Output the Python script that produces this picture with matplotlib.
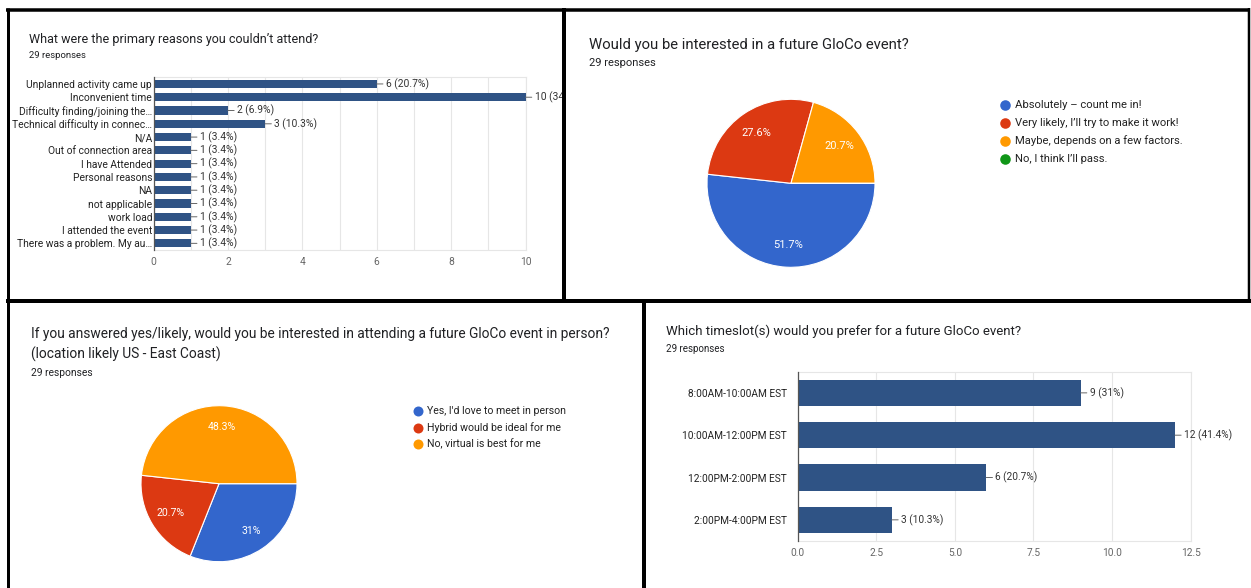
import matplotlib
matplotlib.use('Agg')
import matplotlib.pyplot as plt
from matplotlib.transforms import Bbox, TransformedBbox

plt.rcParams['font.family'] = ['Roboto', 'DejaVu Sans']

W, H = 1251, 588
TOTAL = 29

# ---- Panel 1: reasons (horizontal bars)
reason_title = "What were the primary reasons you couldn’t attend?"
reasons = ["Unplanned activity came up", "Inconvenient time",
           "Difficulty finding/joining the…", "Technical difficulty in connec…",
           "N/A", "Out of connection area", "I have Attended", "Personal reasons",
           "NA", "not applicable", "work load", "I attended the event",
           "There was a problem. My au…"]
reason_counts = [6, 10, 2, 3, 1, 1, 1, 1, 1, 1, 1, 1, 1]
reason_ticks = [0, 2, 4, 6, 8, 10]
reason_tick_labels = ["0", "2", "4", "6", "8", "10"]

# ---- Panel 2: interest (pie)
interest_title = "Would you be interested in a future GloCo event?"
interest_labels = ["Absolutely – count me in!", "Very likely, I’ll try to make it work!",
                   "Maybe, depends on a few factors.", "No, I think I’ll pass."]
interest_counts = [15, 8, 6, 0]

# ---- Panel 3: in person (pie)
inperson_title = ["If you answered yes/likely, would you be interested in attending a future GloCo event in person?",
                  "(location likely US - East Coast)"]
inperson_labels = ["Yes, I'd love to meet in person", "Hybrid would be ideal for me",
                   "No, virtual is best for me"]
inperson_counts = [9, 6, 14]

# ---- Panel 4: timeslots (horizontal bars)
slot_title = "Which timeslot(s) would you prefer for a future GloCo event?"
slots = ["8:00AM-10:00AM EST", "10:00AM-12:00PM EST", "12:00PM-2:00PM EST", "2:00PM-4:00PM EST"]
slot_counts = [9, 12, 6, 3]
slot_ticks = [0, 2.5, 5, 7.5, 10, 12.5]
slot_tick_labels = ["0.0", "2.5", "5.0", "7.5", "10.0", "12.5"]

responses_text = "29 responses"

PIE_COLORS = ['#3366cc', '#dc3912', '#ff9900', '#109618']
BAR_COLOR = '#2f5385'
GRID = '#e6e6e6'
TXT = '#202124'


def pct_text(p):
    s = f"{p:.1f}"
    if s.endswith('.0'):
        s = s[:-2]
    return s + '%'


fig = plt.figure(figsize=(W / 100, H / 100), dpi=100)
fig.patch.set_facecolor('white')


def px_axes(x0, y0, x1, y1):
    return fig.add_axes([x0 / W, 1 - y1 / H, (x1 - x0) / W, (y1 - y0) / H])


def bar_panel(box, cats, counts, xmax, ticks, tick_labels, minor, fs, lpad, clip):
    ax = px_axes(*box)
    y = list(range(len(cats)))
    ax.barh(y, counts, height=0.62, color=BAR_COLOR, zorder=3)
    ax.set_xlim(0, xmax)
    ax.set_ylim(len(cats) - 0.5, -0.5)
    ax.set_yticks(y)
    ax.set_yticklabels(cats, fontsize=fs, color='#222222')
    ax.set_xticks(ticks)
    ax.set_xticklabels(tick_labels, fontsize=fs, color='#666666')
    if minor:
        ax.set_xticks(minor, minor=True)
    ax.grid(axis='x', which='both', color=GRID, lw=0.8, zorder=0)
    ax.tick_params(axis='both', which='both', length=0)
    ax.tick_params(axis='y', pad=lpad)
    ax.tick_params(axis='x', pad=5)
    for s in ['top', 'bottom', 'right']:
        ax.spines[s].set_color(GRID)
        ax.spines[s].set_linewidth(0.8)
    ax.spines['left'].set_color('#555555')
    ax.spines['left'].set_linewidth(0.9)
    ax.spines['left'].set_zorder(4)
    cb = TransformedBbox(Bbox.from_extents(*clip), fig.transFigure)
    for i, v in enumerate(counts):
        t = ax.annotate(f"{v} ({pct_text(100 * v / TOTAL)})", xy=(v, i),
                        xytext=(6.5, 0), textcoords='offset points',
                        va='center', ha='left', fontsize=fs, color='#333333',
                        annotation_clip=False,
                        arrowprops=dict(arrowstyle='-', color='#666666', lw=0.7,
                                        shrinkA=0, shrinkB=0))
        t.set_clip_on(True)
        t.set_clip_box(cb)
    return ax


def pie_panel(cx, cy, r, counts, fs, dist):
    ax = px_axes(cx - r, cy - r, cx + r, cy + r)
    ax.pie(counts, colors=PIE_COLORS[:len(counts)], startangle=0, counterclock=False,
           autopct=lambda p: pct_text(p) if p > 0 else '', pctdistance=dist,
           wedgeprops=dict(edgecolor='white', linewidth=0.8),
           textprops=dict(color='white', fontsize=fs))
    ax.set_xlim(-1, 1)
    ax.set_ylim(-1, 1)
    return ax


bar_panel((153.5, 77.3, 525.5, 250.0), reasons, reason_counts, 10,
          reason_ticks, reason_tick_labels, [1, 3, 5, 7, 9], 7.4, 1.0,
          (0, 1 - 300 / H, 562 / W, 1))
bar_panel((797.6, 371.7, 1190.6, 541.0), slots, slot_counts, 12.5,
          slot_ticks, slot_tick_labels, None, 7.3, 7.5,
          (646 / W, 0, 1, 1 - 303 / H))
pie_panel(791, 183.3, 84, interest_counts, 8.0, 0.73)
pie_panel(219, 483.7, 78, inperson_counts, 7.6, 0.73)

# ---- overlay: titles, legends, frames
ov = fig.add_axes([0, 0, 1, 1])
ov.set_xlim(0, W)
ov.set_ylim(H, 0)
ov.axis('off')
ov.patch.set_alpha(0)

ov.text(29, 43, reason_title, fontsize=9.0, color=TXT, va='baseline')
ov.text(29, 58, responses_text, fontsize=6.8, color=TXT, va='baseline')
ov.text(589, 48.5, interest_title, fontsize=10.7, color=TXT, va='baseline')
ov.text(589, 66.5, responses_text, fontsize=8.0, color=TXT, va='baseline')
ov.text(31, 338, inperson_title[0], fontsize=9.9, color=TXT, va='baseline')
ov.text(31, 358.5, inperson_title[1], fontsize=9.9, color=TXT, va='baseline')
ov.text(31, 376, responses_text, fontsize=7.4, color=TXT, va='baseline')
ov.text(666, 335, slot_title, fontsize=9.5, color=TXT, va='baseline')
ov.text(666, 351.5, responses_text, fontsize=7.0, color=TXT, va='baseline')

# legends
for i, lab in enumerate(interest_labels):
    yy = 105.3 + i * 17.8
    ov.plot([1004.5], [yy], marker='o', ms=7.6, color=PIE_COLORS[i], mec='none')
    ov.text(1015, yy, lab, fontsize=8.1, color='#222222', va='center')
for i, lab in enumerate(inperson_labels):
    yy = 411.3 + i * 16.4
    ov.plot([417.7], [yy], marker='o', ms=7.2, color=PIE_COLORS[i], mec='none')
    ov.text(427, yy, lab, fontsize=7.6, color='#222222', va='center')

# frames
k = 72 / 100
ov.plot([6, 1250], [9.5, 9.5], color='black', lw=3.5 * k, solid_capstyle='butt')
ov.plot([7.5, 7.5], [8, H], color='black', lw=3 * k, solid_capstyle='butt')
ov.plot([564, 564], [8, 301], color='black', lw=4 * k, solid_capstyle='butt')
ov.plot([6, 1251], [301, 301], color='black', lw=4 * k, solid_capstyle='butt')
ov.plot([644, 644], [301, H], color='black', lw=4 * k, solid_capstyle='butt')
ov.plot([1249, 1249], [8, 301], color='black', lw=2.5 * k, solid_capstyle='butt')

fig.savefig('out.png', dpi=100, facecolor='white')
